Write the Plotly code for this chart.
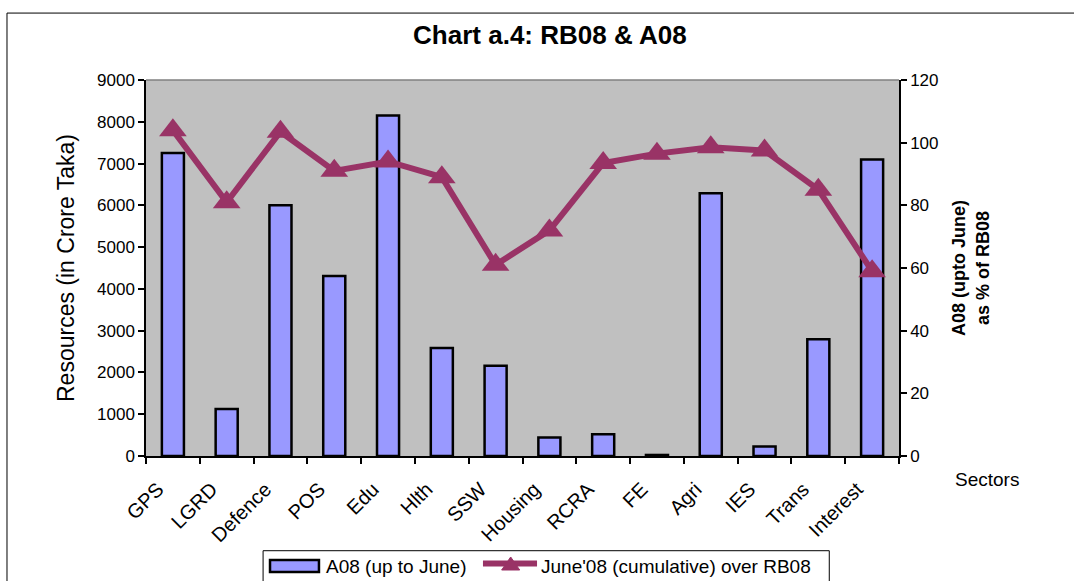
"""Chart a.4: RB08 & A08 — 柱状图 + 折线（双 Y 轴）"""
import plotly.graph_objects as go

# ── 数据 ──
sectors = ["GPS", "LGRD", "Defence", "POS", "Edu", "Hlth", "SSW", "Housing",
           "RCRA", "FE", "Agri", "IES", "Trans", "Interest"]
a08_upto_june = [7250, 1125, 6000, 4310, 8150, 2585, 2160, 440,
                 520, 25, 6290, 225, 2795, 7095]
pct_of_rb08 = [104, 81, 103.5, 91, 94, 89, 61, 72,
               93.5, 96.5, 98.5, 97.5, 85, 59]

left_ticks = list(range(0, 9001, 1000))
right_ticks = list(range(0, 121, 20))

bar_name = "A08 (up to June)"
line_name = "June'08 (cumulative) over RB08"

FONT = "Liberation Sans, Arial, sans-serif"
BAR_COLOR = "#9999FF"
LINE_COLOR = "#993366"

fig = go.Figure()

# ── 柱状：A08 ──
fig.add_trace(go.Bar(
    x=sectors,
    y=a08_upto_june,
    name=bar_name,
    width=0.41,
    marker=dict(color=BAR_COLOR, line=dict(color="#000000", width=2.5)),
    yaxis="y",
))

# ── 折线：占 RB08 百分比 ──
fig.add_trace(go.Scatter(
    x=sectors,
    y=pct_of_rb08,
    name=line_name,
    mode="lines+markers",
    line=dict(color=LINE_COLOR, width=6),
    marker=dict(symbol="triangle-up", size=24, color=LINE_COLOR),
    yaxis="y2",
))

# ── 布局 ──
fig.update_layout(
    width=1074,
    height=581,
    paper_bgcolor="#FFFFFF",
    plot_bgcolor="#C0C0C0",
    font=dict(family=FONT, color="#000000", size=17),
    margin=dict(l=146, r=175, t=80, b=125, autoexpand=False),
    showlegend=False,
    title=dict(
        text="<b>Chart a.4: RB08 &amp; A08</b>",
        x=0.512, xanchor="center",
        y=0.94, yanchor="middle",
        font=dict(family=FONT, size=26, color="#000000"),
    ),
    xaxis=dict(
        type="category",
        range=[-0.5, len(sectors) - 0.5],
        tickson="boundaries",
        ticks="outside", ticklen=6, tickcolor="#000000", tickwidth=1.5,
        tickangle=-45,
        tickfont=dict(size=20),
        ticklabelshift=-15,
        ticklabelstandoff=12,
        showline=True, linecolor="#000000", linewidth=1.5,
        showgrid=False, zeroline=False,
    ),
    yaxis=dict(
        range=[0, 9000],
        tickvals=left_ticks,
        ticks="outside", ticklen=6, tickcolor="#000000", tickwidth=1.5,
        tickfont=dict(size=17),
        showline=True, linecolor="#000000", linewidth=1.5,
        showgrid=False, zeroline=False,
        title=dict(text="Resources (in Crore Taka)", font=dict(size=23), standoff=16),
    ),
    yaxis2=dict(
        range=[0, 120],
        tickvals=right_ticks,
        overlaying="y", side="right",
        ticks="outside", ticklen=6, tickcolor="#000000", tickwidth=1.5,
        tickfont=dict(size=17),
        showline=True, linecolor="#000000", linewidth=1.5,
        showgrid=False, zeroline=False,
        title=dict(text="<b>A08 (upto June)<br>as % of RB08</b>",
                   font=dict(size=18), standoff=15),
    ),
)

# 绘图区顶部灰色边框
fig.add_shape(type="line", xref="paper", yref="paper",
              x0=0, x1=1, y0=1, y1=1,
              line=dict(color="#808080", width=1.5))

# 外框
fig.add_shape(type="rect", xref="paper", yref="paper",
              x0=-0.1846, x1=1.24, y0=-0.6, y1=1.178,
              line=dict(color="#000000", width=1))

# X 轴标题（右下角）
fig.add_annotation(
    text="Sectors", xref="paper", yref="paper",
    x=1.1168, y=-0.0612, xanchor="center", yanchor="middle",
    showarrow=False, font=dict(family=FONT, size=19),
)

# ── 图例（Excel 风格，底部带框） ──
fig.add_shape(type="rect", xref="paper", yref="paper",
              x0=0.1555, x1=0.9074, y0=-0.36, y1=-0.2519,
              line=dict(color="#000000", width=1), fillcolor="#FFFFFF")
fig.add_shape(type="rect", xref="paper", yref="paper",
              x0=0.1647, x1=0.2297, y0=-0.3085, y1=-0.2766,
              line=dict(color="#000000", width=2.5), fillcolor=BAR_COLOR)
fig.add_annotation(
    text=bar_name, xref="paper", yref="paper",
    x=0.2364, y=-0.2939, xanchor="left", yanchor="middle",
    showarrow=False, font=dict(family=FONT, size=19),
)
fig.add_shape(type="line", xref="paper", yref="paper",
              x0=0.4475, x1=0.5193, y0=-0.2859, y1=-0.2859,
              line=dict(color=LINE_COLOR, width=6))
fig.add_shape(type="path", xref="paper", yref="paper",
              path="M 0.4723,-0.3032 L 0.4963,-0.3032 L 0.4843,-0.2686 Z",
              line=dict(color=LINE_COLOR, width=1), fillcolor=LINE_COLOR)
fig.add_annotation(
    text=line_name, xref="paper", yref="paper",
    x=0.5223, y=-0.2939, xanchor="left", yanchor="middle",
    showarrow=False, font=dict(family=FONT, size=19),
)

fig.write_html("out.html", config={"displayModeBar": False},
               post_script="document.body.style.margin='0';")
